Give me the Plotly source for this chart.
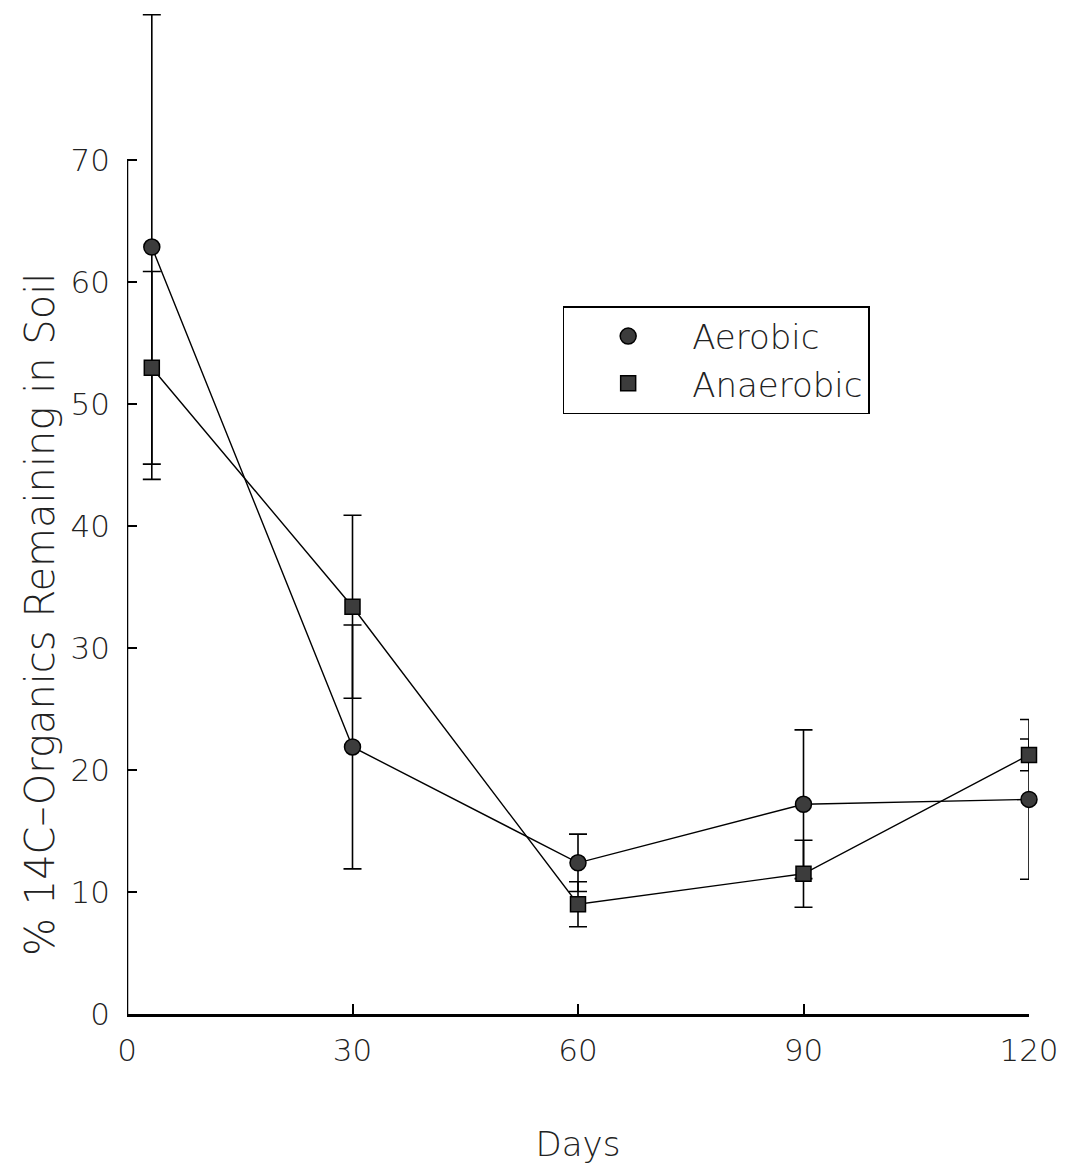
import plotly.graph_objects as go

days = [3.3, 30, 60, 90, 120]
aerobic = [62.9, 21.9, 12.4, 17.2, 17.6]
aerobic_err = [19.05, 10.0, 2.35, 6.1, 6.55]
anaerobic = [53.0, 33.4, 9.0, 11.5, 21.25]
anaerobic_err = [7.9, 7.5, 1.85, 2.75, 1.3]

series_names = ["Aerobic", "Anaerobic"]
x_ticks = [0, 30, 60, 90, 120]
y_ticks = [0, 10, 20, 30, 40, 50, 60, 70]

FONT = "DejaVu Sans"
TXT = "#222222"
FILL = "#3c3c3c"

fig = go.Figure()

# connecting lines (no legend)
for vals in (aerobic, anaerobic):
    fig.add_trace(go.Scatter(x=days, y=vals, mode="lines",
                             line=dict(color="black", width=1.4),
                             showlegend=False, hoverinfo="skip", cliponaxis=False))

# markers with error bars
fig.add_trace(go.Scatter(
    x=days, y=aerobic, mode="markers", name=series_names[0], cliponaxis=False,
    marker=dict(symbol="circle", size=16, color=FILL,
                line=dict(color="black", width=1.5)),
    error_y=dict(type="data", array=aerobic_err, visible=True,
                 color="black", thickness=1.6, width=9)))
fig.add_trace(go.Scatter(
    x=days, y=anaerobic, mode="markers", name=series_names[1], cliponaxis=False,
    marker=dict(symbol="square", size=15, color=FILL,
                line=dict(color="black", width=1.5)),
    error_y=dict(type="data", array=anaerobic_err, visible=True,
                 color="black", thickness=1.6, width=9)))

# left axis line only spans 0..70
fig.add_shape(type="line", xref="x", yref="y", x0=0, x1=0, y0=0, y1=max(y_ticks),
              line=dict(color="black", width=2.5))

W, H = 1066, 1172
ml, mr, mt, mb = 127, 37, 5, 158
plot_h = H - mt - mb
px_per_unit = 12.193
ytop = plot_h / px_per_unit

# y title centred on the 0..70 span, as in the reference
title_center_px = 615
fig.add_annotation(
    text="% 14C–Organics Remaining in Soil", textangle=-90,
    xref="paper", yref="paper",
    x=(40 - ml) / (W - ml - mr), y=(H - mb - title_center_px) / plot_h,
    xanchor="center", yanchor="middle", showarrow=False,
    font=dict(family=FONT, size=40, color=TXT, weight=200))

fig.update_layout(
    width=W, height=H,
    margin=dict(l=ml, r=mr, t=mt, b=mb),
    plot_bgcolor="white", paper_bgcolor="white",
    font=dict(family=FONT, color=TXT, size=30, weight=200),
    xaxis=dict(range=[0, 120], tickvals=x_ticks, ticktext=[str(v) for v in x_ticks],
               showgrid=False, zeroline=False, showline=True, linecolor="black",
               linewidth=2.5, ticks="inside", ticklen=10, tickwidth=1.5,
               tickcolor="black", ticklabelstandoff=7,
               tickfont=dict(family=FONT, size=31, color=TXT, weight=200),
               title=dict(text="Days", standoff=66,
                          font=dict(family=FONT, size=34, color=TXT, weight=200))),
    yaxis=dict(range=[0, ytop], tickvals=y_ticks, ticktext=[str(v) for v in y_ticks],
               showgrid=False, zeroline=False, showline=False,
               ticks="inside", ticklen=10, tickwidth=1.5, tickcolor="black",
               ticklabelstandoff=16,
               tickfont=dict(family=FONT, size=31, color=TXT, weight=200)),
    legend=dict(x=0.483, y=(H - mb - 360) / plot_h, xanchor="left", yanchor="middle",
                bgcolor="white", bordercolor="black", borderwidth=1.5,
                itemwidth=118, entrywidth=273,
                font=dict(family=FONT, size=34, color=TXT, weight=200)),
)

fig.write_html("out.html")
